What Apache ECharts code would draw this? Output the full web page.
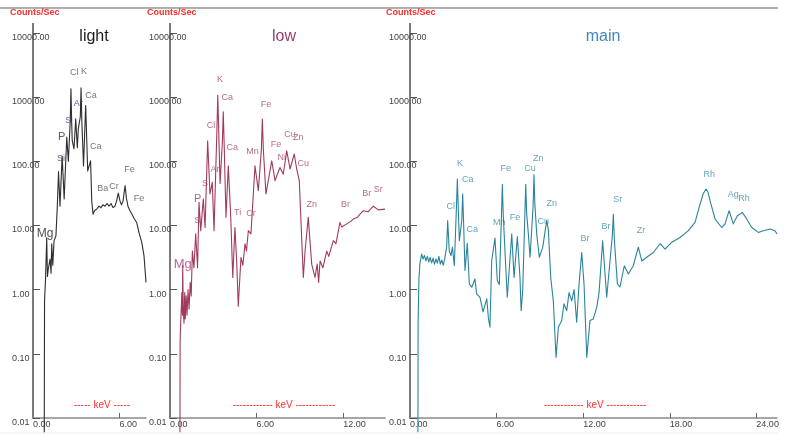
<!DOCTYPE html>
<html><head><meta charset="utf-8">
<script src="https://cdn.jsdelivr.net/npm/echarts/dist/echarts.min.js"></script>
<style>html,body{margin:0;padding:0;background:#fff}#c{width:797px;height:442px}</style>
</head><body><div id="c"></div><script>
// ---------- data (keV, counts/sec) ----------
const lightKeV = [0.78,0.80,0.87,0.95,1.00,1.06,1.18,1.25,1.30,1.37,1.46,1.59,1.68,1.77,1.87,2.02,2.16,2.34,2.45,2.58,2.63,2.68,2.72,2.84,2.96,3.07,3.14,3.28,3.33,3.38,3.50,3.65,3.79,3.99,4.07,4.16,4.26,4.41,4.57,4.71,4.85,4.99,5.13,5.27,5.41,5.54,5.68,5.79,5.91,6.03,6.13,6.24,6.38,6.48,6.58,6.72,6.86,7.00,7.19,7.35,7.54,7.69,7.83];
const lightCps = [0.006,0.67,1.5,6.5,1.6,2.1,3.0,1.8,5.2,2.4,5.8,6.9,19,69,20,120,26,240,100,420,1350,400,210,157,460,163,320,500,1400,450,85,740,71,102,24,15,17,18,20,19,21,20,22,20,22,19,20,24,32,24,21,24,42,26,20,17,15,13,11,7.7,5.4,3.4,1.3];

const lowKeV = [0.69,0.70,0.74,0.78,0.82,0.86,0.88,0.92,0.97,1.02,1.06,1.12,1.18,1.25,1.32,1.40,1.47,1.55,1.66,1.78,1.91,2.01,2.13,2.31,2.43,2.61,2.77,2.93,3.05,3.25,3.31,3.37,3.47,3.63,3.69,3.75,3.88,4.04,4.21,4.35,4.50,4.62,4.73,4.92,5.05,5.20,5.30,5.43,5.61,5.89,6.12,6.33,6.40,6.47,6.65,7.05,7.28,7.62,7.85,8.09,8.32,8.61,8.78,8.96,9.24,9.36,9.58,9.82,10.05,10.20,10.30,10.40,10.60,10.86,11.00,11.32,11.50,11.78,11.90,12.25,12.50,12.70,13.00,13.17,13.40,13.74,14.09,14.44,14.90];
const lowCps = [0.006,0.15,0.3,0.5,0.9,0.4,2.4,0.5,0.3,0.9,0.35,0.8,0.4,1.0,0.5,1.3,0.8,4.0,2.2,7.4,2.2,23,8.3,26,9.3,209,31,47,8.3,300,1075,350,45,200,590,200,13.4,85,13.4,1.55,9.3,2.8,0.55,3.2,2.4,5.2,4.0,8.3,7.4,85,35,150,456,150,31,102,50,80,63,146,76,130,76,50,1.55,4.0,13.4,2.5,1.55,2.5,1.3,2.8,2.2,4.0,3.3,5.8,5.2,11.2,9.5,10.6,11.5,12.6,13.5,15,17,16.4,20,17.5,18];

const mainKeV = [0.55,0.56,0.62,0.69,0.81,0.90,1.00,1.10,1.20,1.30,1.40,1.50,1.60,1.70,1.80,1.90,2.00,2.10,2.20,2.30,2.40,2.54,2.61,2.72,2.84,2.94,3.07,3.22,3.28,3.34,3.42,3.59,3.65,3.71,3.81,3.97,4.11,4.28,4.50,4.62,4.85,5.06,5.32,5.44,5.54,5.66,5.89,6.05,6.19,6.34,6.40,6.46,6.58,6.74,7.05,7.21,7.44,7.62,7.70,7.81,7.96,8.02,8.08,8.20,8.32,8.53,8.59,8.65,8.78,8.96,9.20,9.47,9.58,9.75,9.93,10.12,10.28,10.51,10.67,10.86,11.02,11.21,11.37,11.55,11.71,11.90,12.06,12.25,12.47,12.70,12.94,13.10,13.35,13.63,14.02,14.09,14.16,14.37,14.55,14.85,15.13,15.47,15.82,16.06,16.40,16.86,17.33,17.67,18.14,18.71,19.29,19.75,20.10,20.31,20.51,20.65,20.79,21.14,21.60,21.83,22.11,22.40,22.68,23.03,23.33,23.68,24.14,24.48,24.95,25.29,25.43];
const mainCps = [0.006,0.3,1.5,2.6,3.6,3.0,3.4,2.8,3.3,2.7,3.2,2.6,3.1,2.5,3.0,2.6,3.3,2.5,2.9,2.4,3.0,4.6,11.9,4.0,3.4,4.6,2.36,20,53,20,5.8,12,31,12,2.0,5.3,1.23,1.09,1.47,0.86,0.76,0.45,0.72,0.35,0.26,2.8,6.4,1.38,1.2,15,44,15,4.0,0.76,7.4,1.55,6.7,1.55,0.47,0.97,15,44,16,7.4,3.2,20,62,22,7.4,3.2,4.6,11.9,8.8,1.55,0.67,0.088,0.26,0.33,0.6,0.47,0.9,0.67,1.0,0.31,1.2,3.8,1.2,0.088,0.33,0.35,0.53,0.9,5.8,0.76,7,15,6,1.23,1.1,2.36,1.76,2.36,4.6,2.8,3.2,3.8,5.2,4.3,5.5,6.5,8.3,11.2,21.6,31,37,33,24.4,12.6,9.3,10.6,17,10.6,14.2,16,12.6,9.3,7.8,8.3,8.8,8.3,7.4];

// peak annotations (element, keV, counts/sec where the text sits)
const lightPeakNames = ['Mg','Si','P','S','Cl','K','Ar','Ca','Ca','Ba','Cr','Fe','Fe'];
const lightPeakKeV   = [0.83,1.94,1.99,2.45,2.86,3.53,3.14,4.02,4.34,4.83,5.61,6.68,7.35];
const lightPeakCps   = [7.45,110,241,428,2425,2510,795,1050,169,37.4,40.6,74,25.9];

const lowPeakNames = ['Mg','Si','P','S','Cl','Ar','K','Ca','Ca','Ti','Cr','Mn','Fe','Fe','Ni','Cu','Zn','Cu','Zn','Br','Br','Sr'];
const lowPeakKeV   = [0.88,1.96,1.92,2.43,2.84,3.12,3.47,3.97,4.32,4.69,5.61,5.72,6.65,7.35,7.74,8.32,8.89,9.24,9.82,12.17,13.63,14.43];
const lowPeakCps   = [2.5,11.9,25.9,45,359,74,1915,990,165,16,15.4,141,781,181,115,266,236,91,21.6,21.6,31,35.8];

const mainPeakNames = ['Cl','K','Ca','Ca','Mn','Fe','Fe','Cu','Zn','Cu','Zn','Br','Br','Sr','Zr','Rh','Ag','Rh'];
const mainPeakKeV   = [2.82,3.47,4.0,4.32,6.19,6.63,7.28,8.32,8.89,9.24,9.82,12.13,13.58,14.39,16.0,20.74,22.4,23.15];
const mainPeakCps   = [19.6,94,53,8.8,11.2,78.6,13.4,78.6,109,11.5,22,6.3,9.6,25,8.5,62,29.9,26.4];

// axis ticks / labels
const lightXLabels = [0,6];         const lightXTicks = [6];
const lowXLabels   = [0,6,12];      const lowXTicks   = [6,12];
const mainXLabels  = [0,6,12,18,24];const mainXTicks  = [6,12,18,24];
const panelNames = ['light','low','main'];
const keVMax = [7.83,14.9,25.43];
const cpsMin = 0.01, cpsMax = 10000;

// ---------- build ----------
function zip(a,b){const n=Math.min(a.length,b.length),o=[];for(let i=0;i<n;i++)o.push([a[i],b[i]]);return o;}
const FONT = '"Liberation Sans", Arial, sans-serif';
const panels = [
  {left:33, width:113, keV:lightKeV, cps:lightCps, pn:lightPeakNames, pk:lightPeakKeV, pc:lightPeakCps, xl:lightXLabels, xt:lightXTicks, line:'#2e2e2e', lab:'#555555', title:'#1a1a1a', tx:94, kx:102, keVText:'----- keV -----', cx:10,
   special:{Mg:{fontSize:12,color:'#222'},P:{fontSize:11,color:'#333'},Si:{color:'#2c3e6e'},S:{color:'#2c3e6e'},Ar:{color:'#2c3e6e'}}},
  {left:170, width:215, keV:lowKeV, cps:lowCps, pn:lowPeakNames, pk:lowPeakKeV, pc:lowPeakCps, xl:lowXLabels, xt:lowXTicks, line:'#a23a5c', lab:'#a04a70', title:'#9b3d72', tx:284, kx:284, keVText:'------------ keV ------------', cx:147,
   special:{Mg:{fontSize:13,color:'#b0407a'},P:{fontSize:11,color:'#a03a6a'}}},
  {left:410, width:367, keV:mainKeV, cps:mainCps, pn:mainPeakNames, pk:mainPeakKeV, pc:mainPeakCps, xl:mainXLabels, xt:mainXTicks, line:'#2a849b', lab:'#3a8ca6', title:'#3e86c6', tx:603, kx:595, keVText:'------------ keV ------------', cx:386, special:{}}
];
const grid=[],xAxis=[],yAxis=[],series=[],graphic=[];
graphic.push({type:'line',shape:{x1:0,y1:8,x2:778,y2:8},style:{stroke:'#b0b0b0',lineWidth:2},silent:true});
graphic.push({type:'line',shape:{x1:0,y1:433,x2:778,y2:433},style:{stroke:'#ececec',lineWidth:1},silent:true});
panels.forEach((p,i)=>{
  grid.push({left:p.left, top:33, width:p.width, height:385, outerBoundsMode:'none', containLabel:false});
  xAxis.push({type:'value', gridIndex:i, min:0, max:keVMax[i], interval:6,
    axisLine:{lineStyle:{color:'#8a8a8a',width:1.5}},
    axisTick:{inside:true,length:5,lineStyle:{color:'#666'},customValues:p.xt},
    axisLabel:{customValues:p.xl, align:'left', margin:2, verticalAlign:'top', fontSize:9, color:'#444', fontFamily:FONT, formatter:v=>v.toFixed(2)},
    splitLine:{show:false}});
  yAxis.push({type:'log', gridIndex:i, logBase:10, min:cpsMin, max:cpsMax, splitNumber:6,
    axisLine:{lineStyle:{color:'#7a7a7a',width:2}},
    axisTick:{inside:true,length:7,lineStyle:{color:'#555'}},
    axisLabel:{align:'left', margin:21, verticalAlign:'top', fontSize:9, color:'#444', fontFamily:FONT, formatter:v=>Number(v).toFixed(2)},
    splitLine:{show:false}});
  series.push({type:'line', xAxisIndex:i, yAxisIndex:i, data:zip(p.keV,p.cps), showSymbol:false, symbol:'none', clip:false,
    lineStyle:{color:p.line,width:1.1,join:'round'}, animation:false, silent:true});
  series.push({type:'scatter', xAxisIndex:i, yAxisIndex:i, symbolSize:1, itemStyle:{color:'rgba(0,0,0,0)'}, animation:false, silent:true, clip:false,
    data:p.pn.map((n,k)=>({name:n, value:[p.pk[k],p.pc[k]], label:Object.assign({}, p.special[n]||{})})),
    label:{show:true, position:'inside', formatter:'{b}', color:p.lab, fontSize:9, fontFamily:FONT}});
  graphic.push({type:'line',shape:{x1:p.left,y1:23,x2:p.left,y2:34},style:{stroke:'#7a7a7a',lineWidth:2},silent:true});
  graphic.push({type:'text',x:p.cx,y:13,style:{text:'Counts/Sec',fill:'#ff2a2a',font:'bold 9px '+FONT,align:'left',verticalAlign:'middle'},silent:true});
  graphic.push({type:'text',x:p.tx,y:37,style:{text:panelNames[i],fill:p.title,font:'16px '+FONT,align:'center',verticalAlign:'middle'},silent:true});
  graphic.push({type:'text',x:p.kx,y:405,style:{text:p.keVText,fill:'#ff3030',font:'10px '+FONT,align:'center',verticalAlign:'middle'},silent:true});
});
const chart = echarts.init(document.getElementById('c'));
chart.setOption({animation:false, backgroundColor:'#fff', grid, xAxis, yAxis, series, graphic});
</script></body></html>
